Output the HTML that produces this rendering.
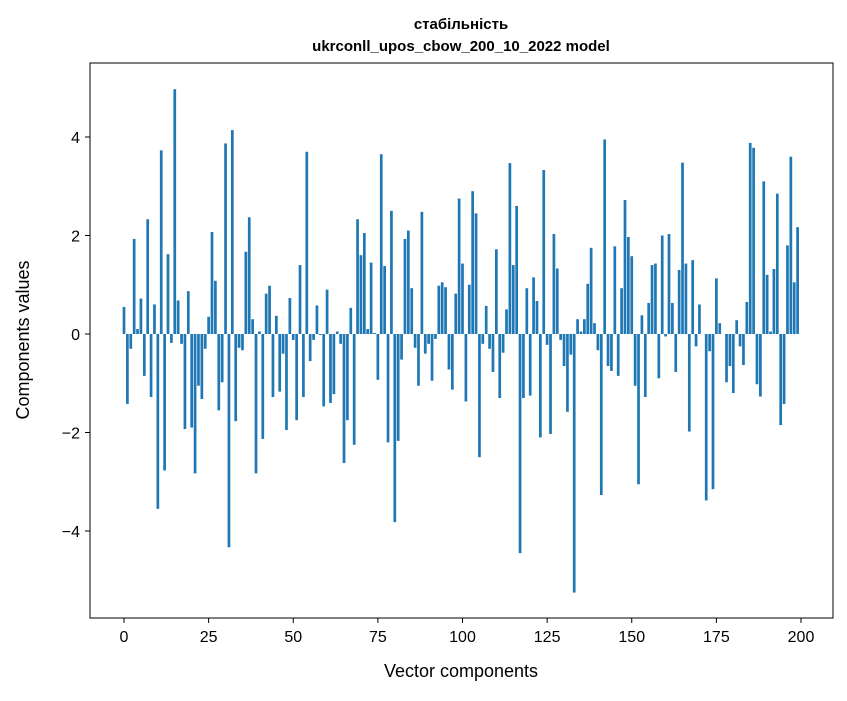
<!DOCTYPE html>
<html><head><meta charset="utf-8"><style>
body{margin:0;background:#fff;font-family:"Liberation Sans","DejaVu Sans",sans-serif}
svg text{font-family:"Liberation Sans","DejaVu Sans",sans-serif}
</style></head><body>
<svg id="chart" width="847" height="696" xmlns="http://www.w3.org/2000/svg">
<rect width="847" height="696" fill="#fff"/>
<text x="461" y="29" text-anchor="middle" font-size="15" font-weight="bold">стабільність</text>
<text x="461" y="51" text-anchor="middle" font-size="15" font-weight="bold">ukrconll_upos_cbow_200_10_2022 model</text>
<g id="bars"></g>
<g id="axes"></g>
<rect x="90" y="63" width="743" height="555" fill="none" stroke="#000" stroke-width="1"/>
<text x="461" y="677" text-anchor="middle" font-size="18">Vector components</text>
<text transform="translate(29,340) rotate(-90)" text-anchor="middle" font-size="18">Components values</text>
</svg>
<script>
const values = [0.55,-1.42,-0.3,1.93,0.1,0.72,-0.85,2.33,-1.28,0.6,-3.55,3.73,-2.77,1.62,-0.18,4.97,0.68,-0.2,-1.93,0.87,-1.9,-2.83,-1.05,-1.32,-0.3,0.35,2.07,1.08,-1.55,-0.98,3.87,-4.33,4.14,-1.77,-0.28,-0.33,1.67,2.37,0.3,-2.83,0.05,-2.13,0.82,0.98,-1.28,0.37,-1.17,-0.4,-1.95,0.73,-0.12,-1.75,1.4,-1.28,3.7,-0.55,-0.12,0.58,-0.02,-1.47,0.9,-1.4,-1.22,0.05,-0.2,-2.62,-1.75,0.53,-2.25,2.33,1.6,2.05,0.1,1.45,0.02,-0.93,3.65,1.38,-2.2,2.5,-3.82,-2.17,-0.52,1.93,2.1,0.93,-0.28,-1.05,2.48,-0.4,-0.2,-0.95,-0.1,0.98,1.05,0.95,-0.72,-1.13,0.82,2.75,1.43,-1.37,1.0,2.9,2.45,-2.5,-0.2,0.57,-0.3,-0.77,1.72,-1.3,-0.38,0.5,3.47,1.4,2.6,-4.45,-1.3,0.93,-1.25,1.15,0.67,-2.1,3.33,-0.22,-2.03,2.03,1.33,-0.12,-0.65,-1.58,-0.42,-5.25,0.3,0.05,0.3,1.02,1.75,0.22,-0.33,-3.27,3.95,-0.65,-0.75,1.78,-0.85,0.93,2.72,1.97,1.58,-1.05,-3.05,0.38,-1.28,0.63,1.4,1.43,-0.9,2.0,-0.05,2.03,0.63,-0.77,1.3,3.48,1.43,-1.98,1.5,-0.25,0.6,0,-3.38,-0.35,-3.15,1.13,0.22,0,-0.98,-0.65,-1.2,0.28,-0.25,-0.63,0.65,3.88,3.78,-1.02,-1.27,3.1,1.2,0.05,1.32,2.85,-1.85,-1.42,1.8,3.6,1.05,2.17];
const xTicks = [0,25,50,75,100,125,150,175,200];
const yTicks = [-4,-2,0,2,4];
const NS='http://www.w3.org/2000/svg';
const xS = v => 124 + v*(801-124)/200;
const yS = v => 334 - v*49.25;
const bars=document.getElementById('bars'), axes=document.getElementById('axes');
values.forEach((v,i)=>{
  const r=document.createElementNS(NS,'rect');
  
  
  const w=0.8*(801-124)/200;
  r.setAttribute('x',xS(i)-w/2);
  r.setAttribute('width',w);
  r.setAttribute('y',Math.min(yS(v),yS(0)));
  r.setAttribute('height',Math.abs(yS(v)-yS(0)));
  r.setAttribute('fill','#1f77b4');
  bars.appendChild(r);
});
xTicks.forEach(t=>{
  const l=document.createElementNS(NS,'line');
  
  
  l.setAttribute('x1',xS(t));l.setAttribute('x2',xS(t));l.setAttribute('y1',618);l.setAttribute('y2',623);l.setAttribute('stroke','#000');
  axes.appendChild(l);
  const tx=document.createElementNS(NS,'text');
  
  
  tx.setAttribute('x',xS(t));tx.setAttribute('y',642);tx.setAttribute('text-anchor','middle');tx.setAttribute('font-size','16');
  tx.textContent=t; axes.appendChild(tx);
});
yTicks.forEach(t=>{
  const l=document.createElementNS(NS,'line');
  
  
  l.setAttribute('x1',85);l.setAttribute('x2',90);l.setAttribute('y1',yS(t));l.setAttribute('y2',yS(t));l.setAttribute('stroke','#000');
  axes.appendChild(l);
  const tx=document.createElementNS(NS,'text');
  
  
  tx.setAttribute('x',80);tx.setAttribute('y',yS(t)+6);tx.setAttribute('text-anchor','end');tx.setAttribute('font-size','16');
  tx.textContent=t<0?'\u2212'+Math.abs(t):t; axes.appendChild(tx);
});
</script>
</body></html>
